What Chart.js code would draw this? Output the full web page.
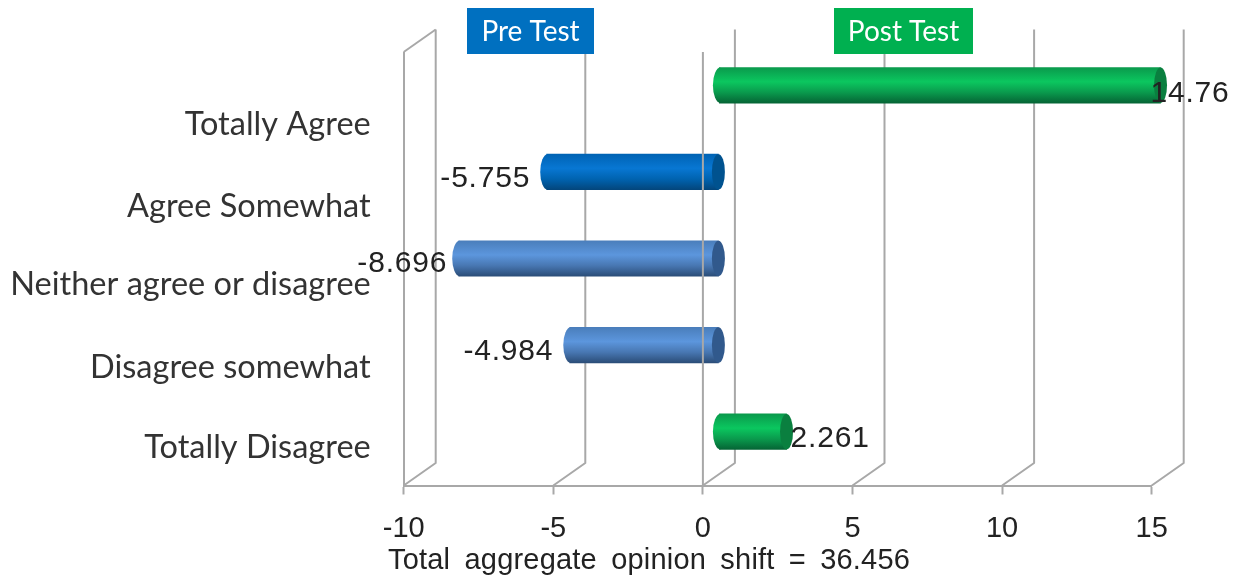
<!DOCTYPE html>
<html>
<head>
<meta charset="utf-8">
<style>html,body{margin:0;padding:0;background:#fff}canvas{display:block;filter:blur(0.5px)}</style>
<script src="https://cdn.jsdelivr.net/npm/chart.js@4"></script>
</head>
<body>
<canvas id="c" width="1236" height="578"></canvas>
<script>
const categories = ["Totally Agree","Agree Somewhat","Neither agree or disagree","Disagree somewhat","Totally Disagree"];
const values = [14.76,-5.755,-8.696,-4.984,2.261];
const xTicks = [-10,-5,0,5,10,15];
const categoryLabelSpots = [72,154,232,315,395];
const footer = "Total aggregate opinion shift = 36.456";
const tags = [["Pre Test",467,127,"#0070c0"],["Post Test",834,139,"#00b050"]];

const GRAY="#a8a8a8", DX=32, DY=22.5;
const LEFT=403.7, RIGHT=1151.7, TOP=52, BOTTOM=485.5;
const palettes=[
 {top:"#0a9a4c",mid:"#0bc75f",low:"#0a9a4d",bot:"#056535",cap:"#0a7f3f"},
 {top:"#0063b4",mid:"#0877d3",low:"#0063b0",bot:"#03467c",cap:"#00528f"},
 {top:"#4a7ebb",mid:"#5c96dd",low:"#4877b2",bot:"#2b4d78",cap:"#31598c"},
 {top:"#4a7ebb",mid:"#5c96dd",low:"#4877b2",bot:"#2b4d78",cap:"#31598c"},
 {top:"#0a9a4c",mid:"#0bc75f",low:"#0a9a4d",bot:"#056535",cap:"#0a7f3f"}];
const labelNudgeX=[-10,-10,-5,-10,4], labelNudgeY=[8,7,5,7,7];

function barFill(ctx){
  const s=ctx.chart.scales.y, p=palettes[ctx.dataIndex];
  if(!s||!ctx.chart.chartArea||ctx.dataIndex===undefined) return "#888";
  const c=s.getPixelForValue(ctx.dataIndex), h=17.75;
  const g=ctx.chart.ctx.createLinearGradient(0,c-h,0,c+h);
  g.addColorStop(0,p.top);g.addColorStop(0.4,p.mid);g.addColorStop(0.7,p.low);g.addColorStop(1,p.bot);
  return g;
}
const scene={
  id:"scene",
  beforeDatasetsDraw(chart){
    const c=chart.ctx,x=chart.scales.x;
    c.save();c.strokeStyle=GRAY;c.lineWidth=2;c.lineJoin="round";
    xTicks.forEach(v=>{
      const px=x.getPixelForValue(v);
      c.beginPath();c.moveTo(px,BOTTOM);c.lineTo(px+DX,BOTTOM-DY);c.lineTo(px+DX,TOP-DY);c.stroke();
    });
    c.beginPath();c.moveTo(LEFT,TOP);c.lineTo(LEFT+DX,TOP-DY);c.stroke();
    tags.forEach(t=>{
      c.fillStyle=t[3];c.fillRect(t[1],8,t[2],46);
      c.fillStyle="#fff";c.font="28px Lato";c.textAlign="center";c.textBaseline="middle";
      c.fillText(t[0],t[1]+t[2]/2,32);
    });
    c.restore();
    c.save();c.translate(DX/2,-10.5);
  },
  afterDatasetsDraw(chart){
    const c=chart.ctx,m=chart.getDatasetMeta(0);
    m.data.forEach((el,i)=>{
      const l=Math.min(el.x,el.base),r=Math.max(el.x,el.base),h=el.height/2,p=palettes[i];
      c.fillStyle=el.options.backgroundColor;
      c.beginPath();c.ellipse(l+1,el.y,7.5,h,0,Math.PI/2,Math.PI*1.5);c.fill();
      c.fillStyle=p.cap;
      c.beginPath();c.ellipse(r,el.y,6.5,h,0,0,Math.PI*2);c.fill();
    });
    c.restore();
    c.save();
    const zero=chart.scales.x.getPixelForValue(0);
    c.strokeStyle=GRAY;c.lineWidth=2;
    c.beginPath();c.moveTo(zero,TOP);c.lineTo(zero,BOTTOM);c.stroke();
    c.fillStyle="#222";c.font="30px 'Liberation Sans'";c.textBaseline="middle";c.letterSpacing="0.8px";
    m.data.forEach((el,i)=>{
      const neg=values[i]<0;
      c.textAlign=neg?"right":"left";
      const edge=neg?el.x+DX/2-6.5:el.x+DX/2;
      c.fillText(String(values[i]),edge+labelNudgeX[i],el.y-10.5+labelNudgeY[i]);
    });
    c.letterSpacing="0.2px";c.wordSpacing="6px";
    c.textAlign="left";c.font="29px 'Liberation Sans'";
    c.fillText(footer,388,561);
    c.letterSpacing="0px";c.wordSpacing="0px";
    c.restore();
  }
};
new Chart(document.getElementById("c"),{
  type:"bar",
  data:{labels:categories,datasets:[{data:values,backgroundColor:barFill,borderWidth:0,barThickness:35.5}]},
  options:{
    indexAxis:"y",responsive:false,animation:false,
    layout:{padding:{top:TOP,right:1236-RIGHT,left:0,bottom:0}},
    plugins:{legend:{display:false},tooltip:{enabled:false},title:{display:false}},
    scales:{
      x:{type:"linear",min:-10,max:15,position:"bottom",
        afterBuildTicks:s=>{s.ticks=xTicks.map(v=>({value:v}));},
        afterFit:s=>{s.height=578-BOTTOM;},
        grid:{drawOnChartArea:false,drawTicks:true,tickColor:GRAY,tickLength:9,tickWidth:2},
        border:{display:true,color:GRAY,width:2},
        ticks:{color:"#222",font:{family:"Liberation Sans",size:29},padding:17,maxRotation:0,autoSkip:false}},
      y:{type:"category",display:false,offset:true,grid:{display:false}},
      names:{type:"linear",position:"left",min:0,max:BOTTOM-TOP,reverse:true,offset:false,
        afterBuildTicks:s=>{s.ticks=categoryLabelSpots.map(v=>({value:v}));},
        afterFit:s=>{s.width=LEFT;},
        grid:{display:false,drawTicks:false,offset:false},
        border:{display:true,color:GRAY,width:2},
        ticks:{color:"#333",font:{family:"Lato",size:32.5},padding:33,autoSkip:false,
          callback:(v,i)=>categories[i]}}
    }
  },
  plugins:[scene]
});
</script>
</body>
</html>
